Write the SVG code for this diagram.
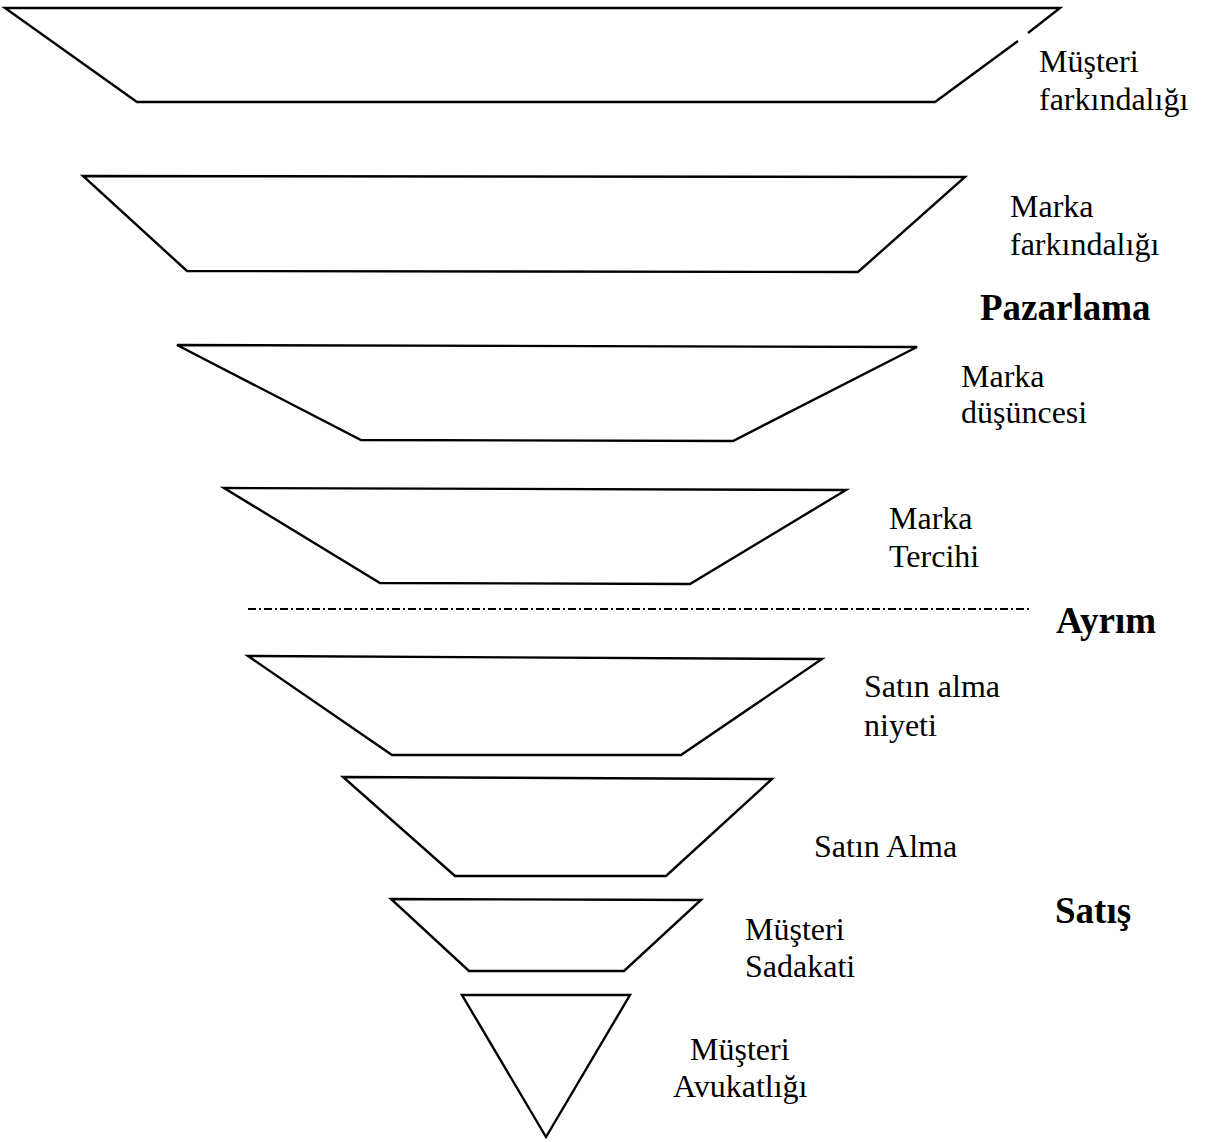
<svg xmlns="http://www.w3.org/2000/svg" width="1210" height="1142" viewBox="0 0 1210 1142">
  <style>
    .stage { fill: none; stroke: #000; stroke-width: 2.4; stroke-linejoin: miter; }
    .lbl { font-family: "Liberation Serif", "Times New Roman", serif; font-size: 32px; fill: #000; }
    .head { font-family: "Liberation Serif", "Times New Roman", serif; font-size: 37px; font-weight: bold; fill: #000; }
    .divider { stroke: #000; stroke-width: 2.2; stroke-dasharray: 8 3 2 3; fill: none; }
  </style>
  <rect width="1210" height="1142" fill="#fff"/>

  <!-- funnel stages, widest at the top -->
  <g id="stage-musteri-farkindaligi">
    <polyline class="stage" points="1018,41 935,102 137,102 5,8 1060,8 1028,33"/>
    <text class="lbl" x="1039" y="72">Müşteri</text>
    <text class="lbl" x="1039" y="110">farkındalığı</text>
  </g>
  <g id="stage-marka-farkindaligi">
    <polygon class="stage" points="83,176 965,177 858,272 187,271"/>
    <text class="lbl" x="1010" y="217">Marka</text>
    <text class="lbl" x="1010" y="255">farkındalığı</text>
  </g>
  <g id="stage-marka-dusuncesi">
    <polygon class="stage" points="177,345 917,347 733,441 361,440"/>
    <text class="lbl" x="961" y="387">Marka</text>
    <text class="lbl" x="961" y="423">düşüncesi</text>
  </g>
  <g id="stage-marka-tercihi">
    <polygon class="stage" points="224,488 846,490 690,584 380,583"/>
    <text class="lbl" x="889" y="529">Marka</text>
    <text class="lbl" x="889" y="567">Tercihi</text>
  </g>
  <g id="stage-satin-alma-niyeti">
    <polygon class="stage" points="248,656 822,659 681,755 392,755"/>
    <text class="lbl" x="864" y="697">Satın alma</text>
    <text class="lbl" x="864" y="736">niyeti</text>
  </g>
  <g id="stage-satin-alma">
    <polygon class="stage" points="343,777 772,779 666,876 455,876"/>
    <text class="lbl" x="814" y="857">Satın Alma</text>
  </g>
  <g id="stage-musteri-sadakati">
    <polygon class="stage" points="391,899 701,900 624,971 469,971"/>
    <text class="lbl" x="745" y="940">Müşteri</text>
    <text class="lbl" x="745" y="977">Sadakati</text>
  </g>
  <g id="stage-musteri-avukatligi">
    <polygon class="stage" points="462,995 630,995 546,1137"/>
    <text class="lbl" x="690" y="1060">Müşteri</text>
    <text class="lbl" x="673" y="1097">Avukatlığı</text>
  </g>

  <!-- section headings and the marketing/sales split -->
  <g id="section-pazarlama">
    <text class="head" x="980" y="320">Pazarlama</text>
  </g>
  <g id="connectors">
    <line class="divider" x1="248" y1="609" x2="1032" y2="609"/>
  </g>
  <g id="section-ayrim">
    <text class="head" x="1056" y="633">Ayrım</text>
  </g>
  <g id="section-satis">
    <text class="head" x="1055" y="923">Satış</text>
  </g>
</svg>
